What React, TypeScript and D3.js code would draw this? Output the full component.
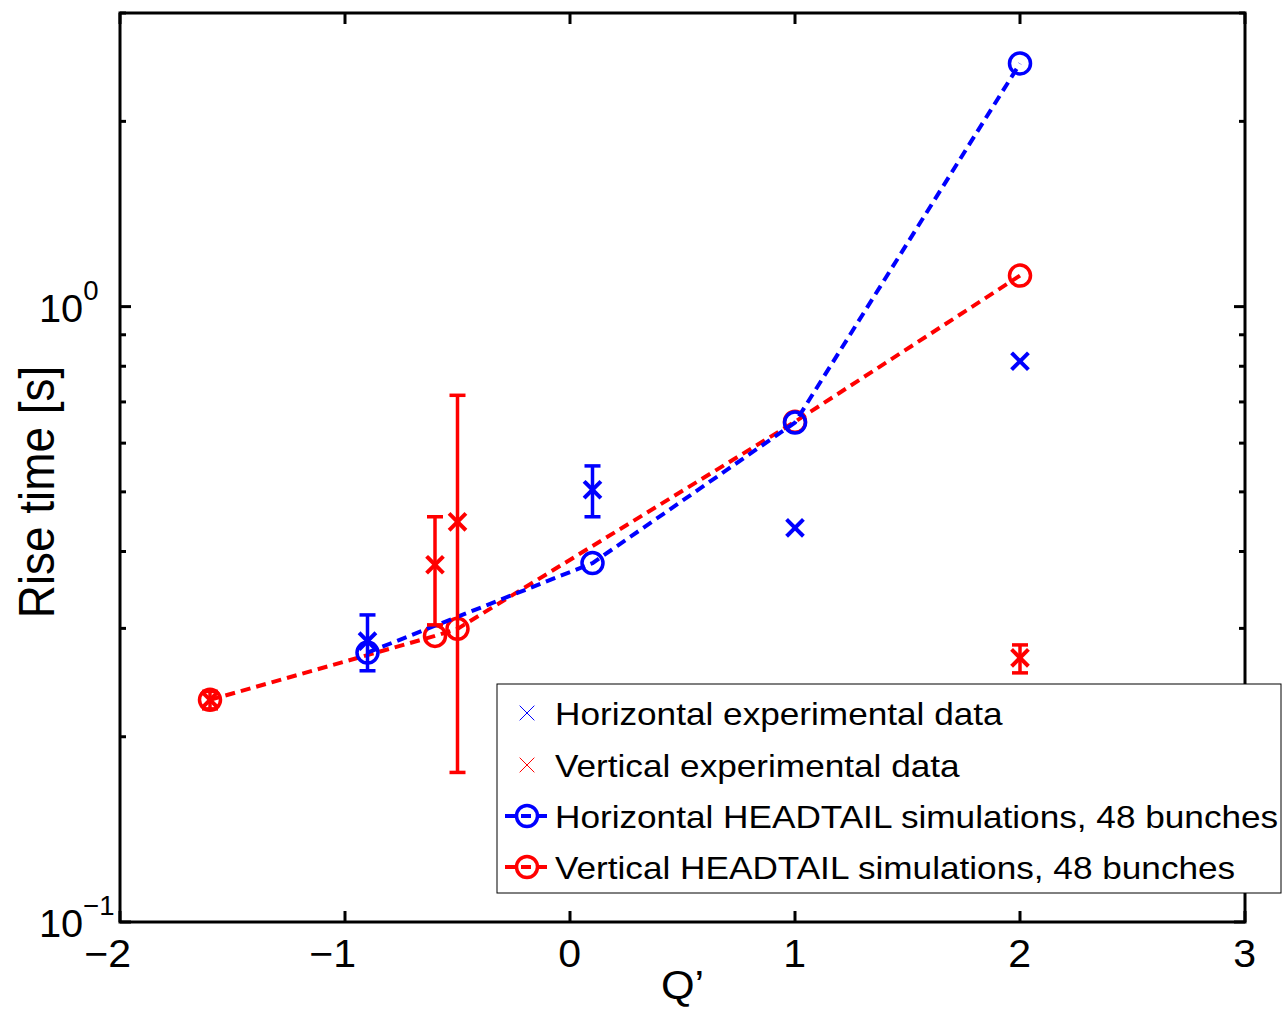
import React from "react";
import * as d3 from "d3";

const xTicks = [-2, -1, 0, 1, 2, 3];
const yMajor = [0.1, 1];
const yMinor = [0.2, 0.3, 0.4, 0.5, 0.6, 0.7, 0.8, 0.9, 2, 3];
const yMajorLabels = ["\u22121", "0"];

const blueSimQ = [-0.9, 0.1, 1, 2];
const blueSimT = [0.274, 0.383, 0.648, 2.484];
const redSimQ = [-1.6, -0.6, -0.5, 1, 2];
const redSimT = [0.2296, 0.2917, 0.2995, 0.65, 1.123];

const blueExpQ = [-0.9, 0.1, 1, 2];
const blueExpT = [0.286, 0.504, 0.437, 0.815];
const blueExpLo = [0.256, 0.4555, 0.437, 0.815];
const blueExpHi = [0.3155, 0.551, 0.437, 0.815];

const redExpQ = [-1.6, -0.6, -0.5, 2];
const redExpT = [0.2296, 0.3806, 0.447, 0.2687];
const redExpLo = [0.222, 0.304, 0.175, 0.254];
const redExpHi = [0.237, 0.4555, 0.7176, 0.282];

const legendLabels = [
  "Horizontal experimental data",
  "Vertical experimental data",
  "Horizontal HEADTAIL simulations, 48 bunches",
  "Vertical HEADTAIL simulations, 48 bunches",
];

const BLUE = "#0000ff";
const RED = "#ff0000";
const FONT = "'Liberation Sans', Arial, Helvetica, sans-serif";
const SX = 1.08;

const L = 120, R = 1245, T = 13, B = 922;

const x = d3.scaleLinear().domain([-2, 3]).range([L, R]);
const y = d3.scaleLog().domain([0.1, 3]).range([B, T]);

const line = d3
  .line<[number, number]>()
  .x((d) => x(d[0]))
  .y((d) => y(d[1]));

function XMark({ cx, cy, color, s = 7, w = 4 }: any) {
  return (
    <g stroke={color} strokeWidth={w} strokeLinecap="square">
      <line x1={cx - s} y1={cy - s} x2={cx + s} y2={cy + s} />
      <line x1={cx - s} y1={cy + s} x2={cx + s} y2={cy - s} />
    </g>
  );
}

function ErrBar({ cx, lo, hi, color }: any) {
  if (Math.abs(lo - hi) < 0.5) return null;
  const c = 8;
  return (
    <g stroke={color} strokeWidth={3.5}>
      <line x1={cx} y1={lo} x2={cx} y2={hi} />
      <line x1={cx - c} y1={lo} x2={cx + c} y2={lo} />
      <line x1={cx - c} y1={hi} x2={cx + c} y2={hi} />
    </g>
  );
}

function SText({ x: tx, y: ty, anchor = "start", size, children }: any) {
  return (
    <text
      transform={`translate(${tx},${ty}) scale(${SX},1)`}
      textAnchor={anchor}
      fontSize={size}
      fontFamily={FONT}
      fill="#000"
    >
      {children}
    </text>
  );
}

export default function App() {
  const blueSim = blueSimQ.map((q, i) => [q, blueSimT[i]] as [number, number]);
  const redSim = redSimQ.map((q, i) => [q, redSimT[i]] as [number, number]);

  const legX = 497, legY = 684, legW = 784, legH = 209;
  const rowY = [713, 765, 816, 867];
  const sampleX = 527;

  return (
    <svg width={1285} height={1010} style={{ position: "absolute", left: 0, top: 0 }}>
      <rect x={0} y={0} width={1285} height={1010} fill="#fff" />

      {/* ticks */}
      <g stroke="#000" strokeWidth={3}>
        {xTicks.map((t) => (
          <g key={"xt" + t}>
            <line x1={x(t)} x2={x(t)} y1={B} y2={B - 11} />
            <line x1={x(t)} x2={x(t)} y1={T} y2={T + 11} />
          </g>
        ))}
        {yMajor.map((t) => (
          <g key={"ym" + t}>
            <line x1={L} x2={L + 11} y1={y(t)} y2={y(t)} />
            <line x1={R} x2={R - 11} y1={y(t)} y2={y(t)} />
          </g>
        ))}
        {yMinor.map((t) => (
          <g key={"yn" + t}>
            <line x1={L} x2={L + 6} y1={y(t)} y2={y(t)} />
            <line x1={R} x2={R - 6} y1={y(t)} y2={y(t)} />
          </g>
        ))}
      </g>

      {/* simulation lines */}
      <path d={line(redSim) || ""} fill="none" stroke={RED} strokeWidth={4} strokeDasharray="10,6" />
      {redSim.map((d, i) => (
        <circle key={"rc" + i} cx={x(d[0])} cy={y(d[1])} r={10.5} fill="none" stroke={RED} strokeWidth={3.5} />
      ))}
      <path d={line(blueSim) || ""} fill="none" stroke={BLUE} strokeWidth={4} strokeDasharray="10,6" />
      {blueSim.map((d, i) => (
        <circle key={"bc" + i} cx={x(d[0])} cy={y(d[1])} r={10.5} fill="none" stroke={BLUE} strokeWidth={3.5} />
      ))}

      {/* experimental data */}
      {blueExpQ.map((q, i) => (
        <g key={"be" + i}>
          <ErrBar cx={x(q)} lo={y(blueExpLo[i])} hi={y(blueExpHi[i])} color={BLUE} />
          <XMark cx={x(q)} cy={y(blueExpT[i])} color={BLUE} />
        </g>
      ))}
      {redExpQ.map((q, i) => (
        <g key={"re" + i}>
          <ErrBar cx={x(q)} lo={y(redExpLo[i])} hi={y(redExpHi[i])} color={RED} />
          <XMark cx={x(q)} cy={y(redExpT[i])} color={RED} />
        </g>
      ))}

      {/* axes box */}
      <rect x={L} y={T} width={R - L} height={B - T} fill="none" stroke="#000" strokeWidth={3} />

      {/* x tick labels */}
      {xTicks.map((t) => (
        <SText key={"xl" + t} x={x(t) + 11} y={967} anchor="end" size={38}>
          {t < 0 ? "\u2212" + Math.abs(t) : String(t)}
        </SText>
      ))}

      {/* y tick labels */}
      {yMajor.map((t, i) => (
        <text
          key={"yl" + t}
          transform={`translate(39,${y(t) + 15}) scale(1.02,1)`}
          fontSize={39}
          fontFamily={FONT}
          fill="#000"
        >
          10
          <tspan fontSize={27} dy={-22}>
            {yMajorLabels[i]}
          </tspan>
        </text>
      ))}

      {/* axis titles */}
      <SText x={(L + R) / 2} y={999} anchor="middle" size={40}>
        Q’
      </SText>
      <text
        transform={`translate(54,492) rotate(-90) scale(1.12,1.2)`}
        textAnchor="middle"
        fontSize={41}
        fontFamily={FONT}
        fill="#000"
      >
        Rise time [s]
      </text>

      {/* legend */}
      <rect x={legX} y={legY} width={legW} height={legH} fill="#fff" stroke="#000" strokeWidth={1} />
      <XMark cx={sampleX} cy={rowY[0]} color={BLUE} s={7} w={1} />
      <XMark cx={sampleX} cy={rowY[1]} color={RED} s={7} w={1} />
      {[BLUE, RED].map((c, i) => (
        <g key={"ls" + i}>
          <line
            x1={sampleX - 22}
            x2={sampleX + 22}
            y1={rowY[2 + i]}
            y2={rowY[2 + i]}
            stroke={c}
            strokeWidth={4}
            strokeDasharray="10,6"
          />
          <circle cx={sampleX} cy={rowY[2 + i]} r={10.5} fill="none" stroke={c} strokeWidth={3.5} />
        </g>
      ))}
      {legendLabels.map((s, i) => (
        <text
          key={"lt" + i}
          transform={`translate(555,${rowY[i] + 12}) scale(1.135,1)`}
          fontSize={31}
          fontFamily={FONT}
          fill="#000"
        >
          {s}
        </text>
      ))}
    </svg>
  );
}
